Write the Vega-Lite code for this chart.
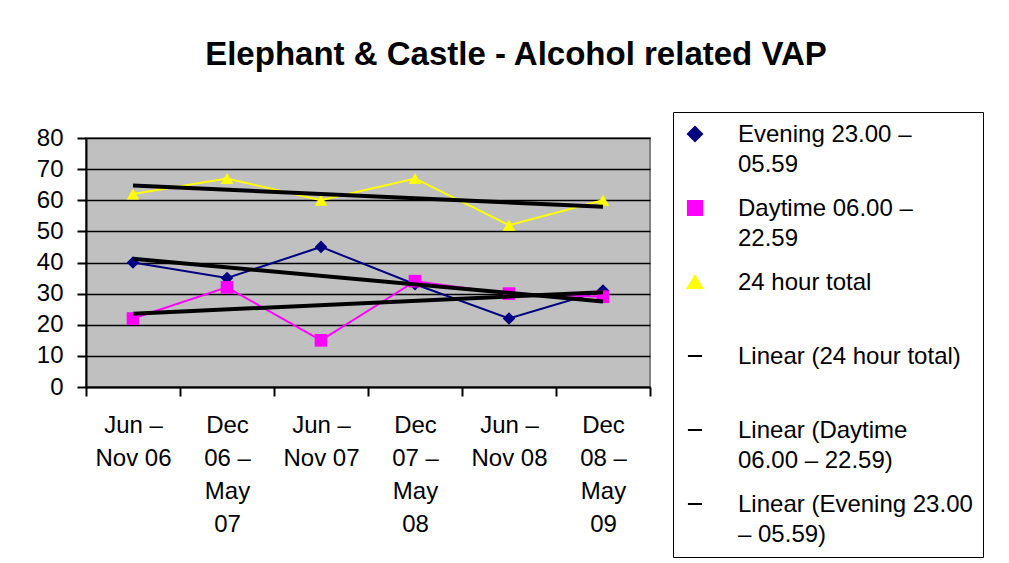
{
  "$schema": "https://vega.github.io/schema/vega-lite/v6.json",
  "width": 564,
  "height": 249,
  "autosize": {"type": "none"},
  "padding": {"left": 86, "top": 138, "right": 359, "bottom": 176},
  "background": "white",
  "config": {
    "font": "Liberation Sans",
    "view": {"fill": "#C0C0C0", "stroke": "#808080", "strokeWidth": 2},
    "axis": {
      "labelFont": "Liberation Sans",
      "labelFontSize": 24,
      "labelColor": "black",
      "domainColor": "black",
      "domainWidth": 2,
      "tickColor": "black",
      "tickWidth": 2,
      "tickSize": 9
    }
  },
  "title": {
    "text": "Elephant & Castle - Alcohol related VAP",
    "font": "Liberation Sans",
    "fontSize": 33,
    "fontWeight": "bold",
    "color": "black",
    "anchor": "middle",
    "dx": 148,
    "baseline": "alphabetic",
    "offset": 14
  },
  "data": {
    "values": [
      {"period": "Jun – Nov 06", "series": "Evening 23.00 – 05.59", "value": 40},
      {"period": "Dec 06 – May 07", "series": "Evening 23.00 – 05.59", "value": 35},
      {"period": "Jun – Nov 07", "series": "Evening 23.00 – 05.59", "value": 45},
      {"period": "Dec 07 – May 08", "series": "Evening 23.00 – 05.59", "value": 33},
      {"period": "Jun – Nov 08", "series": "Evening 23.00 – 05.59", "value": 22},
      {"period": "Dec 08 – May 09", "series": "Evening 23.00 – 05.59", "value": 31},
      {"period": "Jun – Nov 06", "series": "Daytime 06.00 – 22.59", "value": 22},
      {"period": "Dec 06 – May 07", "series": "Daytime 06.00 – 22.59", "value": 32},
      {"period": "Jun – Nov 07", "series": "Daytime 06.00 – 22.59", "value": 15},
      {"period": "Dec 07 – May 08", "series": "Daytime 06.00 – 22.59", "value": 34},
      {"period": "Jun – Nov 08", "series": "Daytime 06.00 – 22.59", "value": 30},
      {"period": "Dec 08 – May 09", "series": "Daytime 06.00 – 22.59", "value": 29},
      {"period": "Jun – Nov 06", "series": "24 hour total", "value": 62},
      {"period": "Dec 06 – May 07", "series": "24 hour total", "value": 67},
      {"period": "Jun – Nov 07", "series": "24 hour total", "value": 60},
      {"period": "Dec 07 – May 08", "series": "24 hour total", "value": 67},
      {"period": "Jun – Nov 08", "series": "24 hour total", "value": 52},
      {"period": "Dec 08 – May 09", "series": "24 hour total", "value": 60},
      {"period": "Jun – Nov 06", "series": "Linear (24 hour total)", "value": 64.76},
      {"period": "Dec 08 – May 09", "series": "Linear (24 hour total)", "value": 57.9},
      {"period": "Jun – Nov 06", "series": "Linear (Daytime 06.00 – 22.59)", "value": 23.57},
      {"period": "Dec 08 – May 09", "series": "Linear (Daytime 06.00 – 22.59)", "value": 30.43},
      {"period": "Jun – Nov 06", "series": "Linear (Evening 23.00 – 05.59)", "value": 41.19},
      {"period": "Dec 08 – May 09", "series": "Linear (Evening 23.00 – 05.59)", "value": 27.48}
    ]
  },
  "encoding": {
    "x": {
      "field": "period",
      "type": "nominal",
      "sort": ["Jun – Nov 06", "Dec 06 – May 07", "Jun – Nov 07", "Dec 07 – May 08", "Jun – Nov 08", "Dec 08 – May 09"],
      "scale": {"type": "band", "paddingInner": 0, "paddingOuter": 0},
      "axis": {
        "title": null,
        "grid": false,
        "tickBand": "extent",
        "labelAngle": 0,
        "labelAlign": "center",
        "labelBaseline": "top",
        "labelLineHeight": 33,
        "labelPadding": 17,
        "labelExpr": "datum.value == 'Jun – Nov 06' ? ['Jun –', 'Nov 06'] : datum.value == 'Dec 06 – May 07' ? ['Dec', '06 –', 'May', '07'] : datum.value == 'Jun – Nov 07' ? ['Jun –', 'Nov 07'] : datum.value == 'Dec 07 – May 08' ? ['Dec', '07 –', 'May', '08'] : datum.value == 'Jun – Nov 08' ? ['Jun –', 'Nov 08'] : datum.value == 'Dec 08 – May 09' ? ['Dec', '08 –', 'May', '09'] : ''"
      }
    },
    "y": {
      "field": "value",
      "type": "quantitative",
      "scale": {"domain": [0, 80], "nice": false},
      "axis": {
        "title": null,
        "values": [0, 10, 20, 30, 40, 50, 60, 70, 80],
        "grid": true,
        "gridColor": "black",
        "gridWidth": 1.5,
        "labelPadding": 14
      }
    },
    "color": {
      "field": "series",
      "type": "nominal",
      "scale": {
        "domain": ["Evening 23.00 – 05.59", "Daytime 06.00 – 22.59", "24 hour total", "Linear (24 hour total)", "Linear (Daytime 06.00 – 22.59)", "Linear (Evening 23.00 – 05.59)"],
        "range": ["#000080", "#FF00FF", "#FFFF00", "#000000", "#000000", "#000000"]
      },
      "legend": {
        "title": null,
        "orient": "none",
        "legendX": 587,
        "legendY": -26,
        "direction": "vertical",
        "fillColor": "white",
        "strokeColor": "black",
        "padding": 10,
        "labelFont": "Liberation Sans",
        "labelFontSize": 24,
        "labelColor": "black",
        "labelLimit": 400,
        "labelOffset": 31,
        "labelBaseline": "alphabetic",
        "symbolSize": 200,
        "symbolStrokeColor": "black",
        "symbolStrokeWidth": 2,
        "rowPadding": 19,
        "labelExpr": "datum.label == 'Evening 23.00 – 05.59' ? ['Evening 23.00 –', '05.59'] : datum.label == 'Daytime 06.00 – 22.59' ? ['Daytime 06.00 –', '22.59'] : datum.label == 'Linear (Daytime 06.00 – 22.59)' ? ['Linear (Daytime', '06.00 – 22.59)'] : datum.label == 'Linear (Evening 23.00 – 05.59)' ? ['Linear (Evening 23.00', '– 05.59)'] : [datum.label, '']",
        "encode": {
          "labels": {
            "update": {
              "dy": {"value": 8},
              "lineHeight": {"value": 30}
            }
          }
        }
      }
    }
  },
  "layer": [
    {
      "transform": [{"filter": "indexof(datum.series, 'Linear') < 0"}],
      "mark": {"type": "line", "strokeWidth": 2}
    },
    {
      "transform": [{"filter": "indexof(datum.series, 'Linear') < 0"}],
      "mark": {"type": "point", "filled": true, "opacity": 1, "size": 160},
      "encoding": {
        "shape": {
          "field": "series",
          "type": "nominal",
          "scale": {
            "domain": ["Evening 23.00 – 05.59", "Daytime 06.00 – 22.59", "24 hour total", "Linear (24 hour total)", "Linear (Daytime 06.00 – 22.59)", "Linear (Evening 23.00 – 05.59)"],
            "range": ["diamond", "square", "triangle-up", "stroke", "stroke", "stroke"]
          },
          "legend": null
        }
      }
    },
    {
      "transform": [{"filter": "indexof(datum.series, 'Linear') == 0"}],
      "mark": {"type": "line", "strokeWidth": 4}
    }
  ]
}
